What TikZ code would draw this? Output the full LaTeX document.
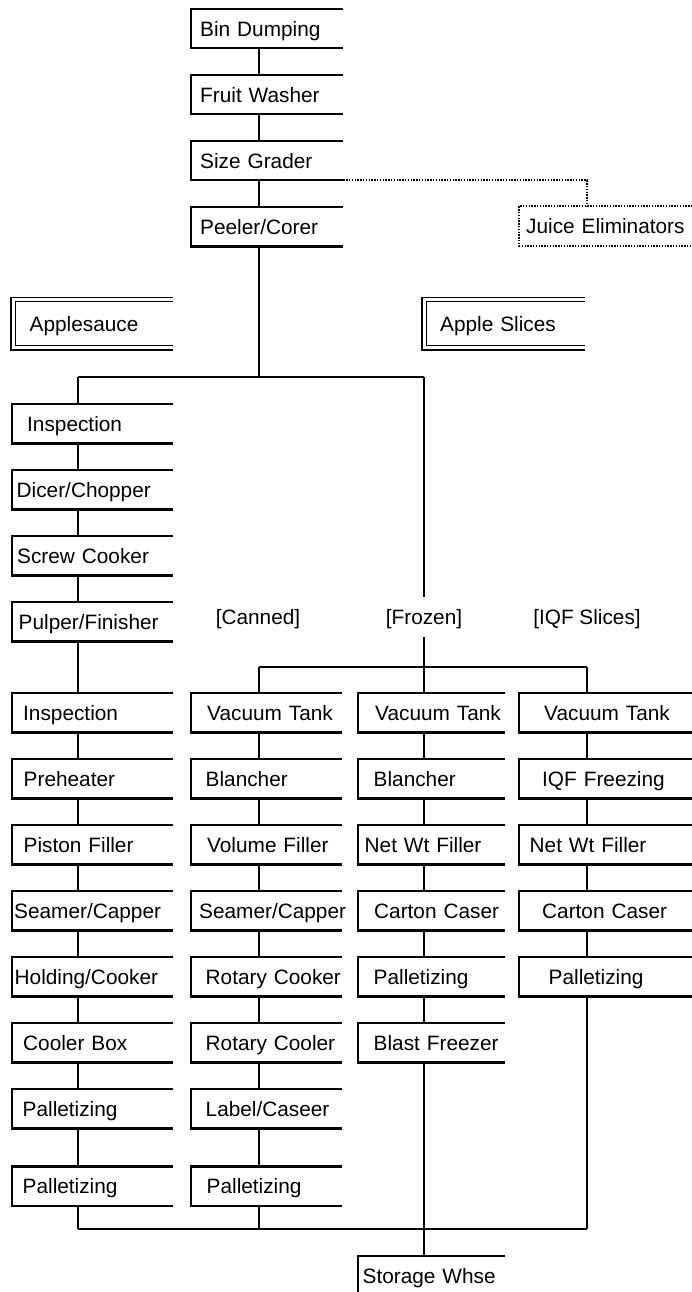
\documentclass[tikz,border=0pt]{standalone}
\usepackage{fontspec}
\setmainfont{Liberation Sans}
\usetikzlibrary{positioning}
\hyphenpenalty=10000
\setlength{\parindent}{0pt}
\newcommand{\ind}[1]{\hspace*{#1pt}}
\tikzset{
  stage/.style={inner xsep=0pt,inner ysep=0pt,minimum height=39pt,text height=16pt,text depth=1pt,align=left,anchor=north west},
  mainbox/.style={stage,text width=152pt},
  cola/.style={stage,text width=161pt},
  colb/.style={stage,text width=151pt},
  colc/.style={stage,text width=147pt},
  cold/.style={stage,text width=173pt},
  kindbox/.style={stage,minimum height=48pt,text width=#1},
  tag/.style={inner sep=0pt,text height=16pt,text depth=1pt},
  flow/.style={line width=2.2pt},
  aux/.style={line width=1.9pt,dash pattern=on 1.4pt off 1.4pt},
  dbl/.style={double,double distance=3pt,line width=1.3pt},
}
\begin{document}
\begin{tikzpicture}[x=1pt,y=-1pt,node distance=26.6pt,every node/.style={font=\fontsize{20.8}{24}\selectfont}]
\useasboundingbox (0,0) rectangle (692,1292);
% common line
\node[mainbox] (bin) at (191,9) {\ind{9}Bin Dumping};
\node[mainbox,below=of bin] (washer) {\ind{9}Fruit Washer};
\node[mainbox,below=of washer] (grader) {\ind{9}Size Grader};
\node[mainbox,below=of grader] (peeler) {\ind{9}Peeler/Corer};
\node[cold] (juice) at (519,206.2) {\ind{7}Juice Eliminators};
% product headings
\node[kindbox=160pt] (sauce) at (13,299.5) {\ind{16.5}Applesauce};
\node[kindbox=161pt] (slices) at (424,299.5) {\ind{16}Apple Slices};
% applesauce line
\node[cola] (insp) at (12,404) {\ind{15}Inspection};
\node[cola,below=of insp] (dicer) {\ind{4.5}Dicer/Chopper};
\node[cola,below=of dicer] (screw) {\ind{5}Screw Cooker};
\node[cola,below=of screw] (pulper) {\ind{6.5}Pulper/Finisher};
\node[cola] (inspa) at (12,693) {\ind{11}Inspection};
\node[cola,below=of inspa] (preheat) {\ind{11.5}Preheater};
\node[cola,below=of preheat] (piston) {\ind{11.5}Piston Filler};
\node[cola,below=of piston] (seama) {\ind{2}Seamer/Capper};
\node[cola,below=of seama] (holding) {\ind{2.5}Holding/Cooker};
\node[cola,below=of holding] (coolbox) {\ind{11}Cooler Box};
\node[cola,below=of coolbox] (palla) {\ind{10.5}Palletizing};
\node[cola,below=38pt of palla] (pallaa) {\ind{10.5}Palletizing};
% slice lines
\node[tag] (canned) at (258,617) {[Canned]};
\node[tag,inner ysep=11pt] (frozen) at (424,617) {[Frozen]};
\node[tag] (iqf) at (587,617) {[IQF Slices]};
\node[colb] (vacb) at (191,693) {\ind{16}Vacuum Tank};
\node[colb,below=of vacb] (blanchb) {\ind{14.5}Blancher};
\node[colb,below=of blanchb] (volume) {\ind{16}Volume Filler};
\node[colb,below=of volume] (seamb) {\ind{8}Seamer/Capper};
\node[colb,below=of seamb] (rotcook) {\ind{14.5}Rotary Cooker};
\node[colb,below=of rotcook] (rotcool) {\ind{14.5}Rotary Cooler};
\node[colb,below=of rotcool] (labeler) {\ind{14.5}Label/Caseer};
\node[colb,below=38pt of labeler] (pallb) {\ind{15.5}Palletizing};
\node[colc] (vacc) at (358,693) {\ind{17}Vacuum Tank};
\node[colc,below=of vacc] (blanchc) {\ind{15.5}Blancher};
\node[colc,below=of blanchc] (netc) {\ind{6.5}Net Wt Filler};
\node[colc,below=of netc] (cartonc) {\ind{16}Carton Caser};
\node[colc,below=of cartonc] (pallc) {\ind{15.5}Palletizing};
\node[colc,below=of pallc] (blast) {\ind{15.5}Blast Freezer};
\node[cold] (vacd) at (519,693) {\ind{25}Vacuum Tank};
\node[cold,below=of vacd] (iqffreeze) {\ind{23}IQF Freezing};
\node[cold,below=of iqffreeze] (netd) {\ind{10.5}Net Wt Filler};
\node[cold,below=of netd] (cartond) {\ind{23}Carton Caser};
\node[cold,below=of cartond] (palld) {\ind{29.5}Palletizing};
\node[colc] (storage) at (358,1256) {\ind{4.5}Storage Whse};
% open boxes
\foreach \n in {bin,washer,grader,peeler,insp,dicer,screw,pulper,inspa,preheat,piston,seama,holding,coolbox,palla,pallaa,
  vacb,blanchb,volume,seamb,rotcook,rotcool,labeler,pallb,vacc,blanchc,netc,cartonc,pallc,blast,vacd,iqffreeze,netd,cartond,palld,storage}
  \draw[flow] (\n.north east) -- (\n.north west) -- (\n.south west) -- (\n.south east);
\draw[aux] (juice.north east) -- (juice.north west) -- (juice.south west) -- (juice.south east);
\foreach \n in {sauce,slices}
  \draw[dbl] (\n.north east) -- (\n.north west) -- (\n.south west) -- (\n.south east);
% spines
\coordinate (s0) at (259,0);
\coordinate (s1) at (78,0);
\coordinate (s3) at (424,0);
\coordinate (s4) at (587,0);
\foreach \a/\b in {bin/washer,washer/grader,grader/peeler}
  \draw[flow] (\a.south -| s0) -- (\b.north -| s0);
\foreach \a/\b in {insp/dicer,dicer/screw,screw/pulper,pulper/inspa,inspa/preheat,preheat/piston,piston/seama,seama/holding,holding/coolbox,coolbox/palla,palla/pallaa}
  \draw[flow] (\a.south -| s1) -- (\b.north -| s1);
\foreach \a/\b in {vacb/blanchb,blanchb/volume,volume/seamb,seamb/rotcook,rotcook/rotcool,rotcool/labeler,labeler/pallb}
  \draw[flow] (\a.south -| s0) -- (\b.north -| s0);
\foreach \a/\b in {vacc/blanchc,blanchc/netc,netc/cartonc,cartonc/pallc,pallc/blast,blast/storage}
  \draw[flow] (\a.south -| s3) -- (\b.north -| s3);
\foreach \a/\b in {vacd/iqffreeze,iqffreeze/netd,netd/cartond,cartond/palld}
  \draw[flow] (\a.south -| s4) -- (\b.north -| s4);
% forks and merge
\coordinate (fork) at (259,377);
\coordinate (forkL) at (78,377);
\coordinate (forkR) at (424,377);
\coordinate (split) at (424,667);
\coordinate (splitL) at (259,667);
\coordinate (splitR) at (587,667);
\coordinate (mergeL) at (78,1229);
\coordinate (mergeR) at (587,1229);
\draw[flow] (peeler.south -| s0) -- (fork);
\draw[flow] (forkL) -- (forkR);
\draw[flow] (forkL) -- (insp.north -| s1);
\draw[flow] (forkR) -- (frozen.north);
\draw[flow] (frozen.south) -- (split);
\draw[flow] (splitL) -- (splitR);
\draw[flow] (splitL) -- (vacb.north -| s0);
\draw[flow] (split) -- (vacc.north -| s3);
\draw[flow] (splitR) -- (vacd.north -| s4);
\draw[flow] (mergeL) -- (mergeR);
\draw[flow] (pallaa.south -| s1) -- (mergeL);
\draw[flow] (pallb.south -| s0) -- (mergeL -| s0);
\draw[flow] (palld.south -| s4) -- (mergeR);
\draw[aux] (grader.south east) -| (juice.north -| s4);
\end{tikzpicture}
\end{document}
